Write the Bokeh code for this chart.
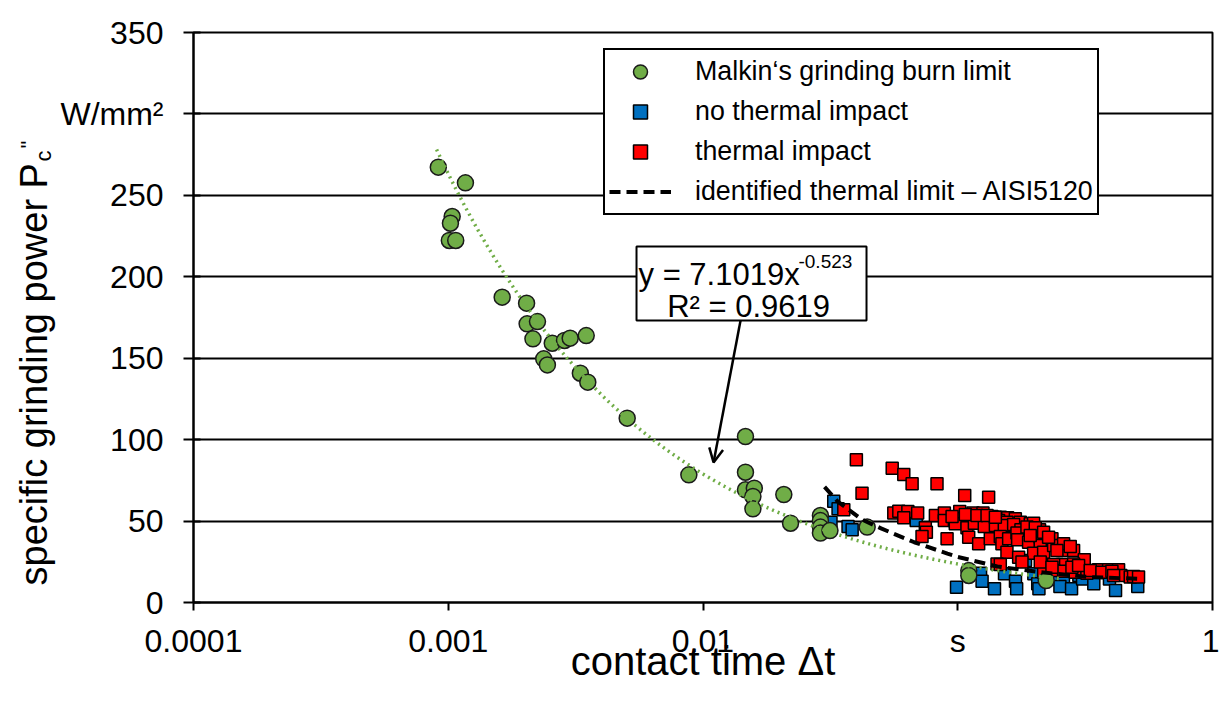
import numpy as np
from bokeh.plotting import figure
from bokeh.models import (Range1d, FixedTicker, Legend, LegendItem, Label,
                          BoxAnnotation, Arrow, OpenHead, Title)
from bokeh.embed import file_html
from bokeh.resources import INLINE

FONT = "Liberation Sans"

# ---------------- data ----------------
malkin_t = [0.000914, 0.001168, 0.001036, 0.00102, 0.00101, 0.00107, 0.001628,
            0.00203, 0.00204, 0.00224, 0.00215, 0.00256, 0.00286, 0.00301,
            0.00348, 0.00237, 0.00245, 0.0033, 0.00353, 0.00504, 0.0088,
            0.01468, 0.01468, 0.01468, 0.0159, 0.0157, 0.0157, 0.02076,
            0.02206, 0.0289, 0.0289, 0.0289, 0.0289, 0.0315, 0.0441,
            0.1105, 0.1105, 0.2224]
malkin_p = [267.3, 257.7, 237.0, 232.9, 222.3, 222.3, 187.5,
            183.8, 171.1, 172.5, 161.9, 159.2, 160.9, 162.3,
            163.9, 149.6, 145.9, 140.8, 135.3, 113.2, 78.4,
            101.9, 80.0, 69.2, 70.2, 65.1, 57.5, 66.3,
            48.7, 53.4, 50.3, 46.3, 42.6, 44.2, 46.3,
            19.6, 16.6, 13.5]

no_impact_t = [0.0326, 0.0339, 0.0318, 0.0371, 0.0385, 0.0687, 0.0989, 0.1229,
               0.1246, 0.1394, 0.1526, 0.1685, 0.1703, 0.1845, 0.1989, 0.206,
               0.2083, 0.2493, 0.26, 0.2518, 0.2797, 0.2988, 0.309, 0.342,
               0.3536, 0.394, 0.4163, 0.5089]
no_impact_p = [62.2, 57.5, 49.3, 46.7, 44.6, 50.3, 9.4, 18.0,
               13.1, 8.4, 17.6, 13.1, 8.4, 25.8, 17.6, 11.5,
               8.4, 14.5, 13.9, 9.8, 8.4, 16.6, 14.5, 11.5,
               19.6, 14.5, 7.4, 9.8]

impact_t = [0.0400, 0.0553, 0.0614, 0.0662, 0.0829, 0.0421, 0.1065, 0.1322, 0.0357,
            0.0561, 0.0587, 0.0637, 0.0696, 0.0817, 0.0886, 0.1018, 0.1148, 0.1256,
            0.1362, 0.1469, 0.1570, 0.1683, 0.0614, 0.0886, 0.0970, 0.1030, 0.1121,
            0.1227, 0.1334, 0.1447, 0.1560, 0.1760, 0.1926, 0.1985, 0.0746, 0.0753,
            0.0724, 0.0908, 0.0978, 0.1087, 0.1162, 0.1271, 0.1405, 0.1523, 0.1657,
            0.1770, 0.1926, 0.2095, 0.1104, 0.1208, 0.1342, 0.1469, 0.1491, 0.1584,
            0.1708, 0.1718, 0.1897, 0.2108, 0.2308, 0.2343, 0.2108, 0.1985, 0.1560,
            0.1734, 0.1787, 0.2173, 0.2564, 0.2378, 0.2849, 0.3138, 0.2603, 0.2849,
            0.2378, 0.2173, 0.2378, 0.2603, 0.2892, 0.3214, 0.3572, 0.3909, 0.4279,
            0.4369, 0.4754, 0.1426, 0.1469, 0.0950, 0.1071, 0.1190, 0.1303, 0.1405,
            0.1869, 0.2015, 0.2173, 0.2273, 0.2603, 0.2765, 0.2451, 0.1926, 0.2108,
            0.2343, 0.2807, 0.2981, 0.3312, 0.3681, 0.4029, 0.4090, 0.4900, 0.5125]
impact_p = [87.6, 82.5, 78.6, 72.9, 72.9, 67.1, 65.7, 64.7, 56.9,
            54.9, 56.1, 55.9, 54.9, 53.4, 54.9, 55.9, 54.9, 54.9,
            52.8, 52.4, 52.0, 51.4, 52.0, 50.4, 50.4, 51.4, 50.4,
            50.8, 50.4, 50.4, 49.3, 49.3, 48.3, 48.7, 45.9, 43.2,
            40.5, 39.1, 48.3, 45.9, 48.7, 46.7, 47.3, 47.3, 47.9,
            44.6, 44.2, 44.6, 40.1, 36.0, 39.1, 40.5, 36.0, 39.1,
            42.6, 38.5, 37.0, 40.1, 38.1, 39.1, 35.0, 30.3, 30.9,
            27.8, 24.8, 30.9, 31.9, 35.0, 31.9, 26.2, 23.3, 23.7,
            23.3, 18.6, 19.6, 19.2, 18.6, 18.0, 20.1, 20.1, 20.1,
            16.6, 15.6, 23.7, 23.3, 52.8, 54.0, 53.4, 53.4, 52.4,
            46.3, 45.9, 43.2, 40.1, 36.0, 34.4, 31.9, 41.1, 24.8,
            21.7, 21.7, 22.7, 19.6, 18.6, 19.2, 16.6, 16.0, 15.6]

limit_t = [0.030, 0.0338, 0.0420, 0.0500, 0.0675, 0.0911, 0.100, 0.143, 0.211, 0.331, 0.530]
limit_p = [71.0, 62.0, 51.0, 45.5, 37.0, 30.0, 28.0, 22.1, 18.6, 15.6, 14.5]

# power-law fit shown in the chart: y = 7.1019 x^-0.523
fit_a = 7.1019
fit_b = -0.523
fit_range = (0.0009, 0.25)

x_ticks = [0.0001, 0.001, 0.01, 0.1, 1.0]
x_tick_labels = ["0.0001", "0.001", "0.01", "s", "1"]
y_ticks = [0, 50, 100, 150, 200, 250, 300, 350]
y_unit_label = "W/mm²"

fit_t = np.logspace(np.log10(fit_range[0]), np.log10(fit_range[1]), 120)
fit_p = fit_a * fit_t ** fit_b

# ---------------- figure ----------------
p = figure(width=1219, height=706, x_axis_type="log",
           x_range=Range1d(1e-4, 1), y_range=Range1d(0, 350),
           output_backend="svg", toolbar_location=None,
           min_border_left=193, min_border_right=7,
           min_border_top=32, min_border_bottom=104)
p.background_fill_color = "white"
p.border_fill_color = "white"
p.outline_line_color = "black"
p.outline_line_width = 2
p.outline_line_alpha = 1

p.xgrid.visible = False
p.ygrid.ticker = FixedTicker(ticks=y_ticks)
p.ygrid.grid_line_color = "black"
p.ygrid.grid_line_width = 2
p.ygrid.grid_line_alpha = 1

xa = p.xaxis[0]
xa.ticker = FixedTicker(ticks=x_ticks, minor_ticks=[])
xa.major_label_overrides = {t: l for t, l in zip(x_ticks, x_tick_labels)}
xa.major_tick_out = 8
xa.major_tick_in = 0
xa.minor_tick_out = 0
xa.minor_tick_in = 0
xa.axis_line_width = 2
xa.axis_line_color = "black"
xa.major_tick_line_width = 2
xa.major_tick_line_color = "black"
xa.major_label_text_font = FONT
xa.major_label_text_font_size = "32px"
xa.major_label_text_color = "black"
xa.major_label_standoff = 12
xa.axis_label = "contact time Δt"
xa.axis_label_text_font = FONT
xa.axis_label_text_font_size = "40px"
xa.axis_label_text_font_style = "normal"
xa.axis_label_text_color = "black"
xa.axis_label_standoff = -23

ya = p.yaxis[0]
ya.ticker = FixedTicker(ticks=y_ticks, minor_ticks=[])
ya.major_label_overrides = {300: y_unit_label}
ya.major_tick_out = 10
ya.major_tick_in = 7
ya.minor_tick_out = 0
ya.minor_tick_in = 0
ya.axis_line_width = 2
ya.axis_line_color = "black"
ya.major_tick_line_width = 2
ya.major_tick_line_color = "black"
ya.major_label_text_font = FONT
ya.major_label_text_font_size = "32px"
ya.major_label_text_color = "black"
ya.major_label_standoff = 20

# y-axis title pieces (rotated side-panel titles): subscript "c", superscript '"', main text
def side_title(text, size, offset, standoff):
    return Title(text=text, align="left", offset=offset, standoff=standoff,
                 text_font=FONT, text_font_size=size, text_font_style="normal",
                 text_color="black")

p.add_layout(side_title("c", "22px", 441, 2.6), "left")
p.add_layout(side_title('"', "22px", 454, -26.6), "left")
p.add_layout(side_title("specific grinding power P", "38px", 17, -54.4), "left")

# ---------------- data glyphs ----------------
r_blue = p.scatter(no_impact_t, no_impact_p, marker="square", size=12,
                   fill_color="#0070C0", line_color="black", line_width=1.5)
r_red = p.scatter(impact_t, impact_p, marker="square", size=12,
                  fill_color="#FF0000", line_color="black", line_width=1.5)
r_green = p.scatter(malkin_t, malkin_p, marker="circle", size=16,
                    fill_color="#70AD47", line_color="#1a1a1a", line_width=1.5)
r_limit = p.line(limit_t, limit_p, line_color="black", line_width=4,
                 line_dash="11 6")
p.line(fit_t, fit_p, line_color="#70AD47", line_width=3.5, line_dash="2 4")

# ---------------- equation box & arrow ----------------
p.add_layout(BoxAnnotation(left=0.005483, right=0.04384, bottom=173.2, top=218.6,
                           fill_color="white", fill_alpha=1,
                           line_color="black", line_width=2, line_alpha=1))
p.add_layout(Label(x=0.005583, y=201.5, text="y = 7.1019x", text_font=FONT,
                   text_font_size="31px", text_color="black",
                   text_baseline="alphabetic", text_align="left"))
p.add_layout(Label(x=0.0237, y=209.5, text="-0.523", text_font=FONT,
                   text_font_size="19px", text_color="black",
                   text_baseline="alphabetic", text_align="left"))
p.add_layout(Label(x=0.0151, y=182.0, text="R² = 0.9619", text_font=FONT,
                   text_font_size="31px", text_color="black",
                   text_baseline="alphabetic", text_align="center"))
p.add_layout(Arrow(end=OpenHead(size=14, line_width=2.5, line_color="black"),
                   x_start=0.01404, y_start=173.2, x_end=0.0110, y_end=86.0,
                   line_width=2.5, line_color="black"))

# ---------------- legend ----------------
legend = Legend(items=[
    LegendItem(label="Malkin‘s grinding burn limit", renderers=[r_green]),
    LegendItem(label="no thermal impact", renderers=[r_blue]),
    LegendItem(label="thermal impact", renderers=[r_red]),
    LegendItem(label="identified thermal limit – AISI5120", renderers=[r_limit]),
], location=(410, 387))
legend.label_text_font = FONT
legend.label_text_font_size = "26.8px"
legend.label_text_color = "black"
legend.glyph_width = 62
legend.glyph_height = 35
legend.label_height = 35
legend.spacing = 5
legend.padding = 4
legend.margin = 0
legend.label_standoff = 24
legend.border_line_color = "black"
legend.border_line_width = 2
legend.border_line_alpha = 1
legend.background_fill_color = "white"
legend.background_fill_alpha = 1
p.add_layout(legend)

open("out.html", "w").write(file_html(p, INLINE))
